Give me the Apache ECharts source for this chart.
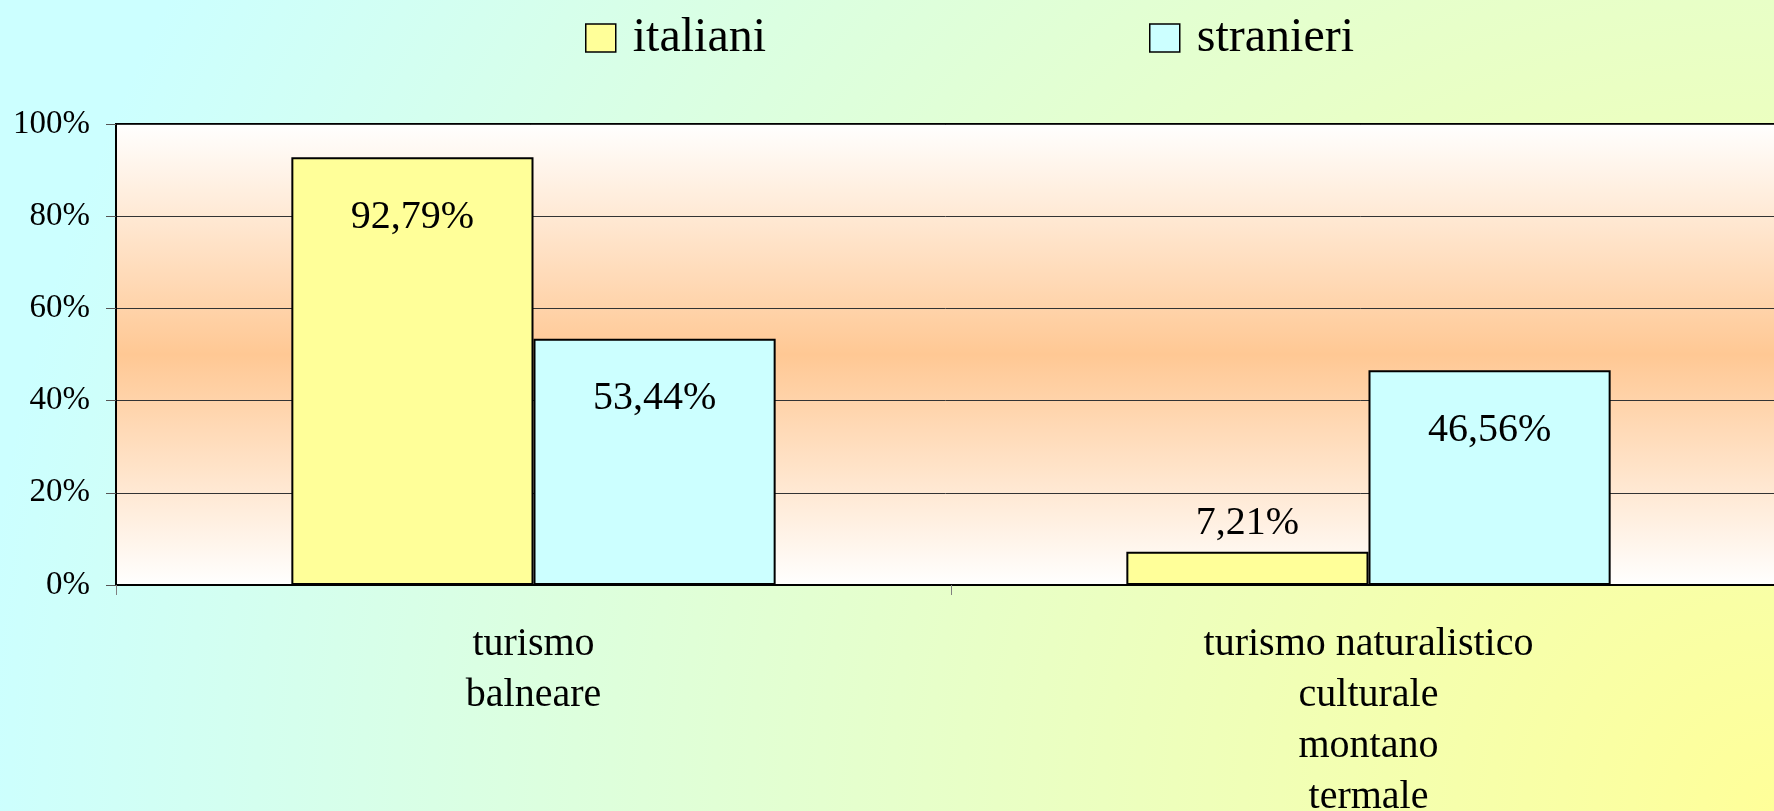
<!DOCTYPE html>
<html>
<head>
<meta charset="utf-8">
<script src="https://cdn.jsdelivr.net/npm/echarts@6/dist/echarts.min.js"></script>
<style>
  html, body { margin: 0; padding: 0; }
  #main {
    width: 1774px; height: 811px;
    background: radial-gradient(circle at 100% 100%, #ffff99 0px, #ccffff 1800px);
  }
</style>
</head>
<body>
<div id="main"></div>
<script>
var categories = ['turismo\nbalneare', 'turismo naturalistico\nculturale\nmontano\ntermale'];
var italiani = [92.79, 7.21];
var stranieri = [53.44, 46.56];
var yTicks = [0, 20, 40, 60, 80, 100];

var font = 'Liberation Serif';

function fmt(v) {
    return v.toFixed(2).replace('.', ',') + '%';
}

// small bars get their label above the bar
function barData(values) {
    return values.map(function (v) {
        return {
            value: v,
            label: v < 15 ? { position: 'top', distance: 8 } : { position: 'insideTop', distance: 40 }
        };
    });
}

function legendFor(name, left) {
    return {
        data: [name], left: left, top: 9,
        icon: 'rect',
        itemWidth: 30, itemHeight: 28,
        itemStyle: { borderColor: '#000', borderWidth: 1.5 },
        textStyle: { fontFamily: font, fontSize: 48, color: '#000', padding: [0, 0, 0, 12] }
    };
}

var myChart = echarts.init(document.getElementById('main'));

var option = {
    backgroundColor: 'transparent',
    animation: false,
    legend: [legendFor('italiani', 580), legendFor('stranieri', 1144)],
    grid: {
        left: 116, top: 124, bottom: 226, right: -12,
        outerBoundsMode: 'none',
        show: true,
        borderColor: '#000',
        borderWidth: 2,
        backgroundColor: {
            type: 'linear', x: 0, y: 0, x2: 0, y2: 1,
            colorStops: [
                { offset: 0, color: '#ffffff' },
                { offset: 0.5, color: '#ffc894' },
                { offset: 1, color: '#ffffff' }
            ]
        }
    },
    xAxis: {
        type: 'category',
        data: categories,
        axisLine: { lineStyle: { color: '#000', width: 2 } },
        axisTick: { show: true, length: 10, lineStyle: { color: '#808080' } },
        axisLabel: {
            fontFamily: font, fontSize: 40, color: '#000',
            lineHeight: 51, margin: 34, interval: 0
        }
    },
    yAxis: {
        type: 'value',
        min: yTicks[0],
        max: yTicks[yTicks.length - 1],
        interval: 20,
        axisLine: { show: true, lineStyle: { color: '#000', width: 2 } },
        axisTick: { show: true, length: 10, lineStyle: { color: '#555' } },
        axisLabel: {
            formatter: '{value}%',
            fontFamily: font, fontSize: 33, color: '#000', margin: 26
        },
        splitLine: { lineStyle: { color: '#333', width: 1 } }
    },
    series: [
        {
            name: 'italiani',
            type: 'bar',
            data: barData(italiani),
            barWidth: '29%',
            barGap: '0%',
            itemStyle: { color: '#ffff99', borderColor: '#000', borderWidth: 2 },
            label: {
                show: true,
                fontFamily: font, fontSize: 40, color: '#000',
                formatter: function (p) { return fmt(p.value); }
            }
        },
        {
            name: 'stranieri',
            type: 'bar',
            data: barData(stranieri),
            barWidth: '29%',
            barGap: '0%',
            itemStyle: { color: '#ccffff', borderColor: '#000', borderWidth: 2 },
            label: {
                show: true,
                fontFamily: font, fontSize: 40, color: '#000',
                formatter: function (p) { return fmt(p.value); }
            }
        }
    ]
};

myChart.setOption(option);
</script>
</body>
</html>
